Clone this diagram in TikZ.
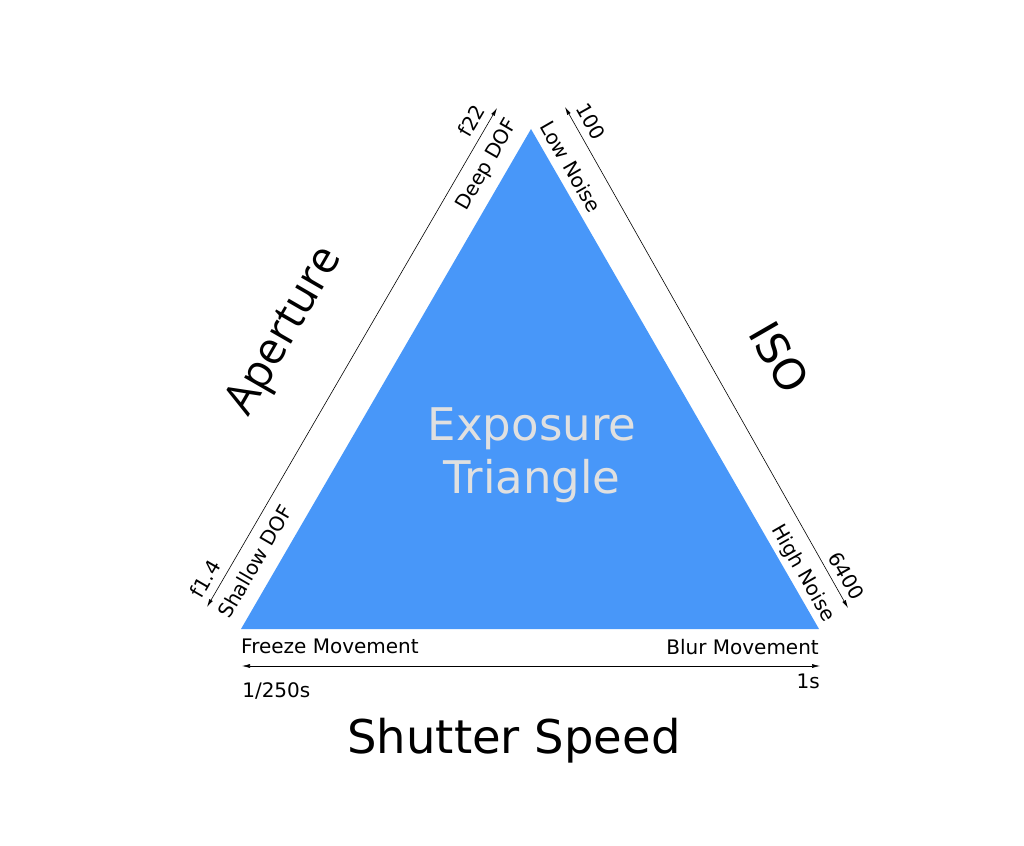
\documentclass[tikz,border=0pt]{standalone}
\usepackage{fontspec}
\setmainfont{DejaVu Sans}
\newfontfamily\apfont{Open Sans}
\usetikzlibrary{arrows.meta}
\definecolor{expblue}{RGB}{72,151,249}
\definecolor{explight}{RGB}{224,224,224}
\begin{document}
\begin{tikzpicture}[x=1pt,y=-1pt,
    lab/.style={font=\fontsize{20}{23}\selectfont, inner xsep=2pt, text depth=0pt},
    rng/.style={{Latex[length=8pt,width=4pt]}-{Latex[length=8pt,width=4pt]}, line width=0.6pt}]
  \useasboundingbox (0,0) rectangle (1024,845);
  % triangle corners and range arrows
  \coordinate (T) at (531,129);
  \coordinate (L) at (241,629);
  \coordinate (R) at (819,629);
  \foreach \n/\p in {A1/{207,607}, A2/{497,108}, B1/{565,107}, B2/{848,608}, C1/{242,666}, C2/{820,666}}{
    \coordinate (\n) at (\p);
  }
  \fill[expblue] (L) -- (T) -- (R) -- cycle;
  \path (L) -- (T) node[lab, sloped, pos=0, anchor=south west, inner ysep=14pt] (shallow) {Shallow DOF}
                   node[lab, sloped, pos=1, anchor=south east, inner ysep=14pt] (deep) {Deep DOF};
  \path (T) -- (R) node[lab, sloped, pos=0, anchor=south west, inner ysep=8pt] (low) {Low Noise}
                   node[lab, sloped, pos=1, anchor=south east, inner ysep=8pt] (high) {High Noise};
  \path (L) -- (R) node[lab, pos=0, anchor=north west, inner sep=0pt, yshift=-10pt] (freeze) {Freeze Movement}
                   node[lab, pos=1, anchor=north east, inner sep=0pt, yshift=-10pt] (blur) {Blur Movement};
  \draw[rng] (A1) -- (A2) node[lab, sloped, pos=0, anchor=south west, inner xsep=4pt, inner ysep=8pt] (f14) {f1.4}
                          node[lab, sloped, pos=1, anchor=south east, inner xsep=7pt, inner ysep=8pt] (f22) {f22};
  \draw[rng] (B1) -- (B2) node[lab, sloped, pos=0, anchor=south west, inner xsep=6pt, inner ysep=8pt] (iso100) {100}
                          node[lab, sloped, pos=1, anchor=south east, inner xsep=3pt, inner ysep=7pt] (iso6400) {6400};
  \draw[rng] (C1) -- (C2) node[lab, pos=0, anchor=north west, inner sep=0pt, yshift=-16pt] (fast) {1/250s}
                          node[lab, pos=1, anchor=north east, inner sep=0pt, yshift=-8pt] (slow) {1s};
  % titles
  \node[font=\apfont\fontsize{45}{52}\selectfont, rotate=60, inner sep=0pt] (aper) at (286,332) {Aperture};
  \node[font=\fontsize{43}{50}\selectfont, rotate=-60, inner sep=0pt] (iso) at (779.5,357.5) {ISO};
  \node[font=\fontsize{46.5}{54}\selectfont, anchor=base, inner sep=0pt] (shutter) at (514,753) {Shutter Speed};
  \node[font=\fontsize{45}{54}\selectfont, text=explight, anchor=base, inner sep=0pt] (expo) at (532,440) {Exposure};
  \node[font=\fontsize{45}{54}\selectfont, text=explight, anchor=base, inner sep=0pt] (tri) at (532,493) {Triangle};
\end{tikzpicture}
\end{document}
